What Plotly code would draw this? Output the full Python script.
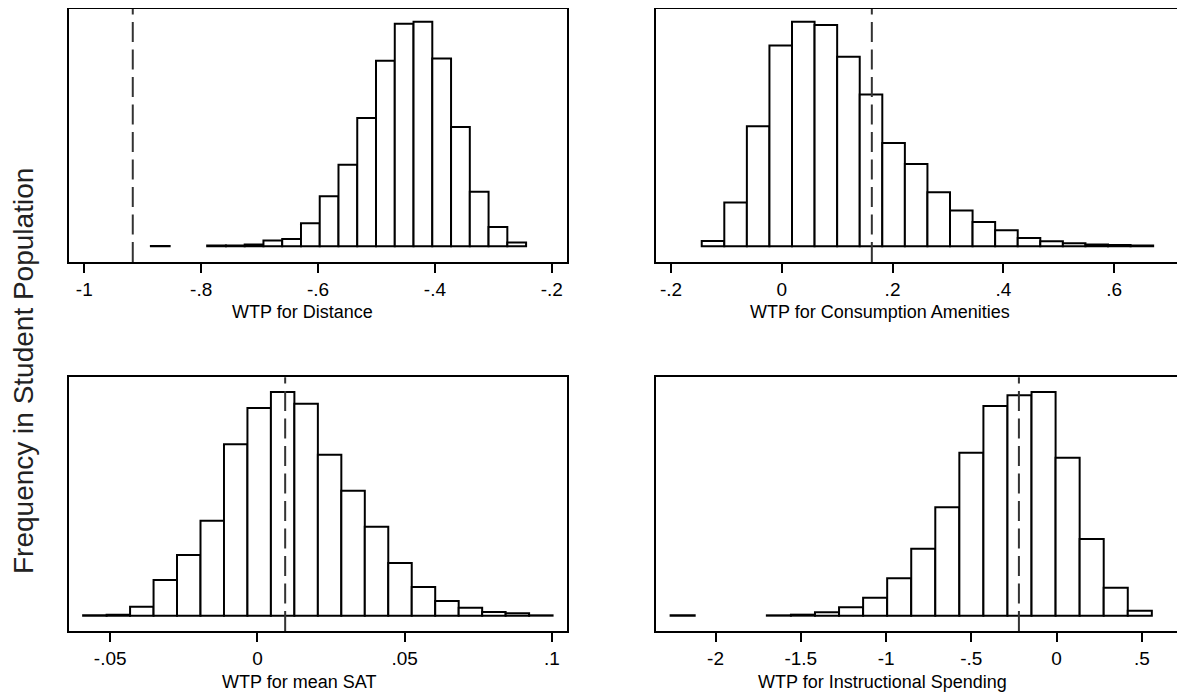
import plotly.graph_objects as go

# ---------------- data (bin starts, widths, heights in arbitrary frequency units) ----------------
dist_start = -0.886
dist_width = 0.0321
dist_counts = [1, None, None, 2, 2, 5, 17, 22, 69, 150, 244, 384, 555, 666, 672, 562, 357, 163, 58, 11]
dist_line = -0.917

amen_start = -0.1445
amen_width = 0.04075
amen_counts = [16, 131, 359, 601, 672, 662, 567, 454, 309, 246, 162, 107, 73, 48, 25, 15, 9, 5, 4, 2]
amen_line = 0.1626

sat_start = -0.0592
sat_width = 0.00797
sat_counts = [1, 3, 27, 107, 182, 285, 514, 623, 671, 636, 483, 375, 267, 158, 86, 44, 24, 11, 7, 1]
sat_line = 0.0094

spend_start = -2.2635
spend_width = 0.1411
spend_counts = [1, None, None, None, 1, 3, 10, 25, 54, 112, 201, 325, 489, 629, 661, 671, 474, 230, 84, 15]
spend_line = -0.221

titles = ["WTP for Distance", "WTP for Consumption Amenities", "WTP for mean SAT", "WTP for Instructional Spending"]
y_title = "Frequency in Student Population"

dist_ticks = [-1, -0.8, -0.6, -0.4, -0.2]
dist_ticklabels = ["-1", "-.8", "-.6", "-.4", "-.2"]
amen_ticks = [-0.2, 0, 0.2, 0.4, 0.6]
amen_ticklabels = ["-.2", "0", ".2", ".4", ".6"]
sat_ticks = [-0.05, 0, 0.05, 0.1]
sat_ticklabels = ["-.05", "0", ".05", ".1"]
spend_ticks = [-2, -1.5, -1, -0.5, 0, 0.5]
spend_ticklabels = ["-2", "-1.5", "-1", "-.5", "0", ".5"]

# ---------------- layout ----------------
# the page body has an 8px margin, so the figure is placed 8px in from the window corner
OFF = 8
W, H = 1185 - OFF, 698 - OFF
FONT = "Liberation Sans, Arial, sans-serif"

panels = [
    dict(start=dist_start, width=dist_width, counts=dist_counts, line=dist_line,
         ticks=dist_ticks, labels=dist_ticklabels, xr=[-1.0256, -0.174],
         px=(69.3, 567), py=(9, 262), yr=[-47, 710], right_border=True, title_x=302, title_y=312),
    dict(start=amen_start, width=amen_width, counts=amen_counts, line=amen_line,
         ticks=amen_ticks, labels=amen_ticklabels, xr=[-0.2276, 0.728],
         px=(655.7, 1185), py=(9, 262), yr=[-47, 710], right_border=False, title_x=880, title_y=312),
    dict(start=sat_start, width=sat_width, counts=sat_counts, line=sat_line,
         ticks=sat_ticks, labels=sat_ticklabels, xr=[-0.0639, 0.1051],
         px=(69.3, 567), py=(377.3, 631), yr=[-46, 715], right_border=True, title_x=299, title_y=682),
    dict(start=spend_start, width=spend_width, counts=spend_counts, line=spend_line,
         ticks=spend_ticks, labels=spend_ticklabels, xr=[-2.351, 0.753],
         px=(655.7, 1185), py=(377.3, 631), yr=[-46, 715], right_border=False, title_x=882, title_y=682),
]


def fx(v):
    return min(1.0, max(0.0, (v - OFF) / W))


def fy(v):
    return min(1.0, max(0.0, 1 - (v - OFF) / H))


fig = go.Figure()
layout = dict(
    width=W, height=H,
    margin=dict(l=0, r=0, t=0, b=0, pad=0),
    paper_bgcolor="white", plot_bgcolor="white",
    showlegend=False,
    font=dict(family=FONT, size=19, color="black"),
    shapes=[], annotations=[],
)

for i, p in enumerate(panels):
    n = i + 1
    xa = "x" if n == 1 else f"x{n}"
    ya = "y" if n == 1 else f"y{n}"
    centers = [p["start"] + p["width"] * (k + 0.5) for k in range(len(p["counts"]))]
    fig.add_trace(go.Bar(
        x=centers, y=p["counts"], width=p["width"],
        marker=dict(color="white", line=dict(color="black", width=2)),
        xaxis=xa, yaxis=ya, hoverinfo="skip",
    ))
    layout[f"xaxis{'' if n == 1 else n}"] = dict(
        domain=[fx(p["px"][0]), fx(p["px"][1])],
        range=p["xr"], anchor=ya,
        tickmode="array", tickvals=p["ticks"], ticktext=p["labels"],
        ticks="outside", ticklen=9, tickwidth=1.5, tickcolor="black",
        showline=True, linecolor="black", linewidth=2, mirror=True,
        showgrid=False, zeroline=False,
        tickfont=dict(family=FONT, size=19, color="black"),
    )
    layout[f"yaxis{'' if n == 1 else n}"] = dict(
        domain=[fy(p["py"][1]), fy(p["py"][0])],
        range=p["yr"], anchor=xa,
        showticklabels=False, ticks="",
        showline=True, linecolor="black", linewidth=2,
        mirror=p["right_border"],
        showgrid=False, zeroline=False,
    )
    layout["shapes"].append(dict(
        type="line", xref=xa, yref=f"{ya} domain",
        x0=p["line"], x1=p["line"], y0=0, y1=1,
        line=dict(color="#333333", width=2, dash="20px,7.5px"),
    ))
    layout["annotations"].append(dict(
        text=titles[i], xref="paper", yref="paper",
        x=fx(p["title_x"]), y=fy(p["title_y"]),
        xanchor="center", yanchor="middle", showarrow=False,
        font=dict(family=FONT, size=18, color="black"),
    ))

layout["annotations"].append(dict(
    text=y_title, xref="paper", yref="paper",
    x=fx(23), y=fy(371), textangle=-90,
    xanchor="center", yanchor="middle", showarrow=False,
    font=dict(family=FONT, size=28, color="#222222"),
))

fig.update_layout(**layout)
fig.write_html("out.html")
